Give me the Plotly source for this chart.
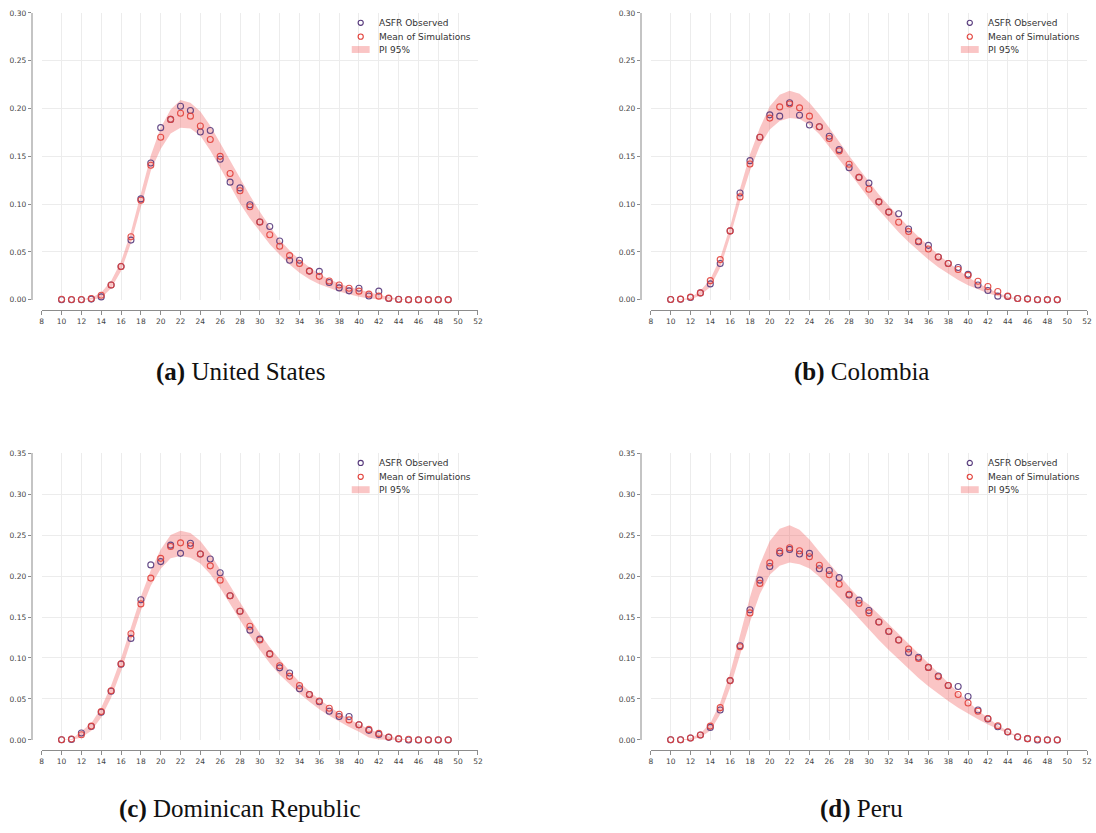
import plotly.graph_objects as go

W, H = 1096, 833

# Single-year ages 10..49
ages = list(range(10, 50))

# ---------------- United States ----------------
us_observed = [0, 0, 0, 0.0007, 0.003, 0.0155, 0.0348, 0.0624, 0.1055, 0.143,
               0.180, 0.1886, 0.2024, 0.198, 0.1755, 0.177, 0.147, 0.123, 0.117, 0.0993,
               0.0814, 0.0766, 0.0614, 0.0414, 0.0414, 0.030, 0.0297, 0.018, 0.0124, 0.0093,
               0.012, 0.004, 0.009, 0.0014, 0.0005, 0, 0, 0, 0, 0]
us_mean = [0.0005, 0.0003, 0.0003, 0.0014, 0.0048, 0.0155, 0.0348, 0.0659, 0.104, 0.1407,
           0.170, 0.1886, 0.195, 0.192, 0.1817, 0.1676, 0.150, 0.132, 0.114, 0.0972,
           0.0814, 0.068, 0.0559, 0.0462, 0.038, 0.030, 0.0245, 0.0197, 0.0155, 0.012,
           0.009, 0.0059, 0.0038, 0.0017, 0.0003, 0.0001, 0.0001, 0.0001, 0.0001, 0.0001]
us_pi_upper = [0, 0.0002, 0.0005, 0.002, 0.0076, 0.0197, 0.040, 0.071, 0.111, 0.151,
               0.180, 0.199, 0.209, 0.206, 0.197, 0.182, 0.164, 0.1455, 0.128, 0.109,
               0.092, 0.0766, 0.0628, 0.0514, 0.042, 0.034, 0.027, 0.0214, 0.017, 0.0134,
               0.0107, 0.0076, 0.0052, 0.0028, 0.001, 0.0003, 0, 0, 0, 0]
us_pi_lower = [0, 0, 0, 0, 0.0018, 0.012, 0.030, 0.0593, 0.097, 0.135,
               0.1576, 0.1738, 0.180, 0.179, 0.1714, 0.156, 0.138, 0.1197, 0.1007, 0.085,
               0.0714, 0.058, 0.047, 0.0369, 0.0283, 0.0214, 0.0162, 0.012, 0.0086, 0.0059,
               0.0031, 0.0014, 0.0005, 0, 0, 0, 0, 0, 0, 0]

# ---------------- Colombia ----------------
co_observed = [0.0003, 0.0005, 0.0024, 0.0072, 0.0166, 0.038, 0.072, 0.1117, 0.1455, 0.170,
               0.1934, 0.192, 0.206, 0.193, 0.1828, 0.181, 0.171, 0.157, 0.138, 0.128,
               0.122, 0.1024, 0.0917, 0.090, 0.074, 0.0607, 0.0569, 0.0448, 0.038, 0.0338,
               0.0266, 0.0155, 0.0097, 0.0038, 0.0034, 0.0014, 0.001, 0, 0, 0]
co_mean = [0.0003, 0.0007, 0.0028, 0.0072, 0.020, 0.042, 0.072, 0.1076, 0.142, 0.170,
           0.190, 0.2017, 0.2048, 0.2007, 0.192, 0.181, 0.1686, 0.1555, 0.1417, 0.128,
           0.1155, 0.1024, 0.0917, 0.081, 0.0714, 0.0614, 0.0531, 0.0448, 0.038, 0.0317,
           0.0255, 0.0193, 0.0138, 0.0086, 0.0038, 0.0014, 0.0007, 0.0003, 0.0002, 0.0002]
co_pi_upper = [0, 0.0005, 0.002, 0.0093, 0.0214, 0.0438, 0.0766, 0.116, 0.152, 0.180,
               0.2024, 0.2145, 0.2186, 0.2155, 0.206, 0.1938, 0.180, 0.165, 0.1507, 0.137,
               0.123, 0.110, 0.0983, 0.0869, 0.0762, 0.066, 0.0566, 0.0472, 0.039, 0.031,
               0.0238, 0.0172, 0.012, 0.0072, 0.0034, 0.0014, 0.0005, 0, 0, 0]
co_pi_lower = [0, 0, 0, 0.0048, 0.0134, 0.0334, 0.066, 0.1024, 0.135, 0.161,
               0.178, 0.187, 0.190, 0.189, 0.183, 0.173, 0.160, 0.147, 0.1334, 0.1197,
               0.1059, 0.0938, 0.0817, 0.0707, 0.0603, 0.0507, 0.042, 0.034, 0.0272, 0.0207,
               0.0152, 0.0107, 0.0069, 0.0038, 0.0017, 0.0005, 0, 0, 0, 0]

# ---------------- Dominican Republic ----------------
do_observed = [0.0003, 0.0007, 0.0084, 0.0165, 0.0338, 0.0595, 0.0925, 0.1239, 0.171, 0.2136,
               0.2176, 0.2377, 0.2277, 0.240, 0.2269, 0.2208, 0.204, 0.176, 0.157, 0.134,
               0.123, 0.105, 0.088, 0.0817, 0.0624, 0.0555, 0.0467, 0.035, 0.0286, 0.0286,
               0.0185, 0.0117, 0.0068, 0.0032, 0.0012, 0, 0, 0, 0, 0]
do_mean = [0.0003, 0.0012, 0.0064, 0.0169, 0.0346, 0.060, 0.093, 0.1295, 0.166, 0.1975,
           0.2216, 0.236, 0.2405, 0.237, 0.2269, 0.2124, 0.195, 0.176, 0.157, 0.1388,
           0.1219, 0.105, 0.0905, 0.0776, 0.0664, 0.0555, 0.0475, 0.0386, 0.0314, 0.0245,
           0.0185, 0.0129, 0.008, 0.0036, 0.0016, 0.0008, 0.0003, 0.0003, 0.0003, 0.0003]
do_pi_upper = [0, 0.001, 0.0105, 0.0205, 0.0394, 0.0664, 0.0998, 0.138, 0.175, 0.207,
               0.2325, 0.250, 0.2554, 0.2526, 0.2426, 0.2273, 0.2084, 0.188, 0.168, 0.149,
               0.130, 0.113, 0.0977, 0.0837, 0.0708, 0.0595, 0.0495, 0.0406, 0.0326, 0.0253,
               0.0189, 0.0133, 0.0084, 0.0044, 0.0016, 0.0004, 0, 0, 0, 0]
do_pi_lower = [0, 0, 0.003, 0.0113, 0.0274, 0.0515, 0.0837, 0.120, 0.158, 0.188,
               0.209, 0.2216, 0.2245, 0.2224, 0.2152, 0.2023, 0.1854, 0.166, 0.146, 0.1267,
               0.1098, 0.0937, 0.0796, 0.0676, 0.0567, 0.0467, 0.0374, 0.0294, 0.0221, 0.0157,
               0.010, 0.003, 0.0005, 0, 0, 0, 0, 0, 0, 0]

# ---------------- Peru ----------------
pe_observed = [0.0003, 0.0003, 0.0024, 0.006, 0.0153, 0.0366, 0.0724, 0.115, 0.1589, 0.195,
               0.2116, 0.228, 0.2325, 0.2269, 0.2277, 0.2088, 0.2068, 0.198, 0.177, 0.1706,
               0.158, 0.144, 0.1323, 0.1219, 0.1066, 0.101, 0.0885, 0.078, 0.0664, 0.0652,
               0.0531, 0.0366, 0.0257, 0.0161, 0.0097, 0.0036, 0.0016, 0, 0, 0]
pe_mean = [0.0003, 0.0003, 0.0024, 0.006, 0.0169, 0.0394, 0.0724, 0.1138, 0.155, 0.191,
           0.216, 0.2305, 0.2345, 0.2309, 0.2236, 0.2132, 0.2015, 0.1899, 0.1778, 0.1665,
           0.155, 0.144, 0.1327, 0.1219, 0.111, 0.0994, 0.0885, 0.0772, 0.0664, 0.0555,
           0.045, 0.035, 0.0261, 0.0173, 0.0101, 0.004, 0.0016, 0.0008, 0.0003, 0.0003]
pe_pi_upper = [0, 0, 0.002, 0.008, 0.0205, 0.0455, 0.0817, 0.128, 0.174, 0.2144,
               0.2426, 0.2578, 0.2619, 0.2566, 0.2446, 0.2297, 0.2152, 0.2011, 0.187, 0.1734,
               0.165, 0.153, 0.141, 0.129, 0.117, 0.105, 0.093, 0.081, 0.069, 0.058,
               0.047, 0.036, 0.027, 0.018, 0.011, 0.0045, 0.0012, 0, 0, 0]
pe_pi_lower = [0, 0, 0, 0.0032, 0.0113, 0.0314, 0.0636, 0.1038, 0.144, 0.178,
               0.2015, 0.2124, 0.2164, 0.2144, 0.2092, 0.1991, 0.187, 0.1742, 0.1613, 0.148,
               0.135, 0.1219, 0.1098, 0.0986, 0.0865, 0.0756, 0.0656, 0.0563, 0.0475, 0.0394,
               0.0322, 0.0253, 0.0189, 0.0133, 0.008, 0.004, 0.0012, 0.0002, 0, 0]

captions = ["<b>(a)</b> United States", "<b>(b)</b> Colombia",
            "<b>(c)</b> Dominican Republic", "<b>(d)</b> Peru"]
legend_labels = ["ASFR Observed", "Mean of Simulations", "PI 95%"]
x_ticks = list(range(8, 53, 2))

series = [
    (us_observed, us_mean, us_pi_lower, us_pi_upper, 0.30),
    (co_observed, co_mean, co_pi_lower, co_pi_upper, 0.30),
    (do_observed, do_mean, do_pi_lower, do_pi_upper, 0.35),
    (pe_observed, pe_mean, pe_pi_lower, pe_pi_upper, 0.35),
]

OBS_COLOR = "#56397c"
MEAN_COLOR = "#e2403a"
BAND_COLOR = "rgba(240,90,90,0.35)"
GRID = "#ececec"
TICK_FONT = dict(family="DejaVu Sans", size=7.5, color="#444444")


def px_x(p):
    return p / W


def px_y(p):
    return (H - p) / H


# Pixel geometry of each panel: plot-area left/right, top/bottom, spine offsets
panel_geom = [
    dict(left=40, right=479, top=9, bottom=299, yline=30, xline=309, cap=(240, 372)),
    dict(left=653, right=1092, top=9, bottom=299, yline=643, xline=309, cap=(865, 372)),
    dict(left=40, right=479, top=454, bottom=744, yline=30, xline=754, cap=(240, 814)),
    dict(left=653, right=1092, top=454, bottom=744, yline=643, xline=754, cap=(865, 814)),
]
legend_offsets = [(0, 0), (613, 0), (0, 445), (613, 445)]

fig = go.Figure()
layout = dict(
    width=W, height=H,
    margin=dict(l=0, r=0, t=0, b=0),
    paper_bgcolor="white", plot_bgcolor="white",
    showlegend=False,
)
shapes = []
annotations = []

for i, ((obs, mean, lo, hi, ymax), g) in enumerate(zip(series, panel_geom)):
    n = "" if i == 0 else str(i + 1)
    xa, ya = "x" + n, "y" + n

    # prediction interval band
    fig.add_trace(go.Scatter(x=ages, y=lo, mode="lines", line=dict(width=0),
                             xaxis=xa, yaxis=ya, hoverinfo="skip"))
    fig.add_trace(go.Scatter(x=ages, y=hi, mode="lines", line=dict(width=0),
                             fill="tonexty", fillcolor=BAND_COLOR,
                             xaxis=xa, yaxis=ya, name=legend_labels[2]))
    # observed rates and simulation means
    fig.add_trace(go.Scatter(x=ages, y=obs, mode="markers", name=legend_labels[0],
                             marker=dict(symbol="circle-open", size=6, color=OBS_COLOR,
                                         line=dict(width=1.1, color=OBS_COLOR)),
                             opacity=0.9, cliponaxis=False, xaxis=xa, yaxis=ya))
    fig.add_trace(go.Scatter(x=ages, y=mean, mode="markers", name=legend_labels[1],
                             marker=dict(symbol="circle-open", size=6, color=MEAN_COLOR,
                                         line=dict(width=1.1, color=MEAN_COLOR)),
                             opacity=0.9, cliponaxis=False, xaxis=xa, yaxis=ya))

    layout["xaxis" + n] = dict(
        domain=[px_x(g["left"]), px_x(g["right"])],
        range=[8, 52], tickvals=x_ticks, ticktext=[str(t) for t in x_ticks],
        anchor="free", position=px_y(g["xline"]),
        showgrid=True, gridcolor=GRID, gridwidth=1, zeroline=False,
        showline=True, linecolor="#8c8c8c", linewidth=1,
        ticks="outside", ticklen=4, tickwidth=1, tickcolor="#8c8c8c",
        tickfont=TICK_FONT, fixedrange=True,
    )
    yticks = [round(0.05 * k, 2) for k in range(int(round(ymax / 0.05)) + 1)]
    layout["yaxis" + n] = dict(
        domain=[px_y(g["bottom"]), px_y(g["top"])],
        range=[0, ymax], tickvals=yticks, ticktext=[f"{t:.2f}" for t in yticks],
        anchor="free", position=px_x(g["yline"]),
        showgrid=True, gridcolor=GRID, gridwidth=1, zeroline=False,
        showline=True, linecolor="#c4c4c4", linewidth=2,
        ticks="outside", ticklen=3, tickwidth=1, tickcolor="#8c8c8c",
        tickfont=TICK_FONT, fixedrange=True,
    )

    # caption below each panel
    cx, cy = g["cap"]
    annotations.append(dict(
        text=captions[i], xref="paper", yref="paper", x=px_x(cx), y=px_y(cy),
        xanchor="center", yanchor="middle", showarrow=False,
        font=dict(family="Liberation Serif", size=25, color="#111111"),
    ))

    # per-panel legend
    dx, dy = legend_offsets[i]
    lx, rows = 361 + dx, [19 + dy, 33 + dy, 46 + dy]
    r = 2.6
    for row, col in zip(rows[:2], [OBS_COLOR, MEAN_COLOR]):
        shapes.append(dict(type="circle", xref="paper", yref="paper",
                           x0=px_x(lx - r), x1=px_x(lx + r),
                           y0=px_y(row + r), y1=px_y(row - r),
                           line=dict(color=col, width=1.1)))
    shapes.append(dict(type="rect", xref="paper", yref="paper",
                       x0=px_x(352 + dx), x1=px_x(370 + dx),
                       y0=px_y(rows[2] + 3.5), y1=px_y(rows[2] - 3.5),
                       line=dict(width=0), fillcolor=BAND_COLOR))
    for row, lab in zip(rows, legend_labels):
        annotations.append(dict(
            text=lab, xref="paper", yref="paper", x=px_x(377 + dx), y=px_y(row),
            xanchor="left", yanchor="middle", showarrow=False,
            font=dict(family="DejaVu Sans", size=9, color="#333333"),
        ))

layout["shapes"] = shapes
layout["annotations"] = annotations
fig.update_layout(**layout)

fig.write_html("out.html")
